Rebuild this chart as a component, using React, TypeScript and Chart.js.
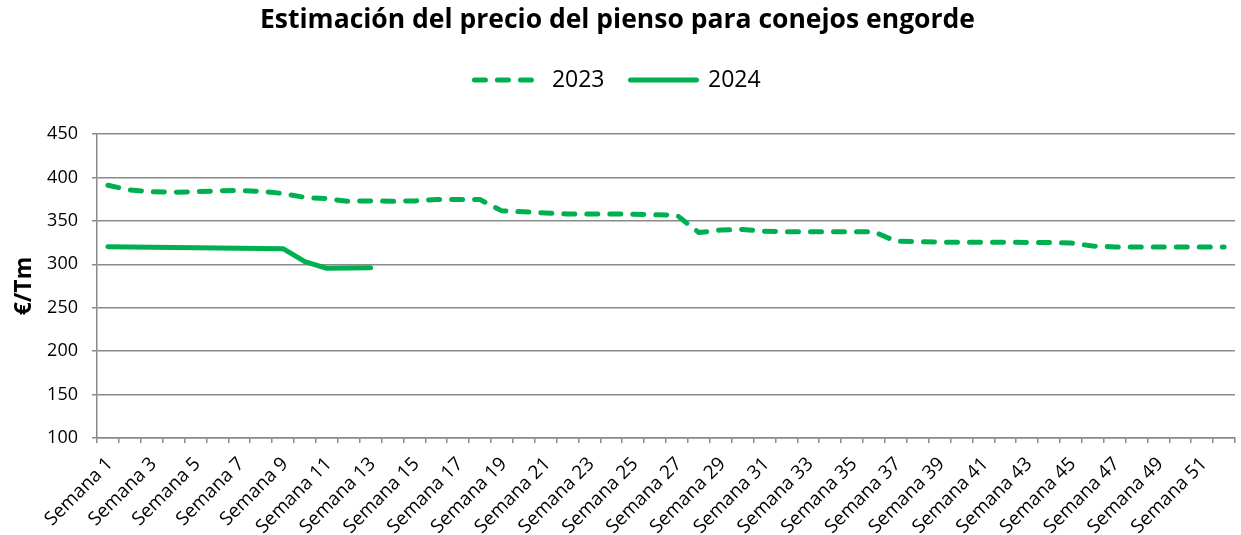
import React, { useEffect, useRef } from 'react';
import { Chart, registerables } from 'chart.js';

Chart.register(...registerables);

const weeks = [
  'Semana 1', 'Semana 2', 'Semana 3', 'Semana 4', 'Semana 5', 'Semana 6', 'Semana 7', 'Semana 8',
  'Semana 9', 'Semana 10', 'Semana 11', 'Semana 12', 'Semana 13', 'Semana 14', 'Semana 15', 'Semana 16',
  'Semana 17', 'Semana 18', 'Semana 19', 'Semana 20', 'Semana 21', 'Semana 22', 'Semana 23', 'Semana 24',
  'Semana 25', 'Semana 26', 'Semana 27', 'Semana 28', 'Semana 29', 'Semana 30', 'Semana 31', 'Semana 32',
  'Semana 33', 'Semana 34', 'Semana 35', 'Semana 36', 'Semana 37', 'Semana 38', 'Semana 39', 'Semana 40',
  'Semana 41', 'Semana 42', 'Semana 43', 'Semana 44', 'Semana 45', 'Semana 46', 'Semana 47', 'Semana 48',
  'Semana 49', 'Semana 50', 'Semana 51', 'Semana 52',
];

const values2023 = [
  391, 385.5, 383.5, 383, 383.5, 384.5, 385, 384, 381.5, 377, 375.5, 372.5, 373,
  372.5, 373, 374.5, 374.5, 374.5, 361.5, 360.5, 359, 358, 358, 358, 357.5, 357,
  356.5, 336.5, 339.5, 340, 338, 337.5, 337.5, 337.5, 337.5, 337.5, 326.5, 326, 325.5,
  325.5, 325.5, 325.5, 325, 325, 324.5, 321, 320, 320, 320, 320, 320, 320,
];

const values2024 = [
  320.3, 320, 319.7, 319.4, 319.1, 318.8, 318.5, 318.2, 318, 303, 295.3, 295.7, 296,
];

const seriesLabels = ['2023', '2024'];
const yTicks = { min: 100, max: 450, step: 50 };

const GREEN = '#00B050';
const GRID = '#8a8a8a';
const FONT = '"Open Sans", Lato, sans-serif';

export default function App() {
  const ref = useRef<HTMLCanvasElement>(null);

  useEffect(() => {
    if (!ref.current) return;
    const chart = new Chart(ref.current, {
      type: 'line',
      data: {
        labels: weeks,
        datasets: [
          {
            label: seriesLabels[0],
            data: values2023,
            borderColor: GREEN,
            backgroundColor: GREEN,
            borderWidth: 5,
            borderDash: [11, 12],
            borderCapStyle: 'round',
            borderJoinStyle: 'round',
            pointRadius: 0,
            tension: 0,
            fill: false,
          },
          {
            label: seriesLabels[1],
            data: values2024,
            borderColor: GREEN,
            backgroundColor: GREEN,
            borderWidth: 5,
            borderCapStyle: 'round',
            borderJoinStyle: 'round',
            pointRadius: 0,
            tension: 0,
            fill: false,
          },
        ],
      },
      options: {
        animation: false,
        responsive: false,
        devicePixelRatio: 1,
        events: [],
        layout: { padding: { top: 0, right: 6, bottom: 0, left: 0 } },
        plugins: {
          tooltip: { enabled: false },
          title: {
            display: true,
            text: 'Estimación del precio del pienso para conejos engorde',
            color: '#000',
            font: { family: FONT, size: 26.5, weight: 'bold', lineHeight: 1.2 },
            padding: { top: 5, bottom: 17.7 },
          },
          subtitle: {
            display: true,
            text: ' ',
            weight: 500,
            font: { family: FONT, size: 10, lineHeight: 1.2 },
            padding: { top: 0, bottom: 20.5 },
          },
          legend: {
            display: true,
            position: 'top',
            labels: {
              usePointStyle: true,
              pointStyleWidth: 66,
              color: '#000',
              font: { family: FONT, size: 23 },
              padding: 14,
              generateLabels: (c: any) =>
                c.data.datasets.map((ds: any, i: number) => ({
                  text: i === 0 ? ds.label + '  ' : ds.label,
                  fillStyle: GREEN,
                  strokeStyle: GREEN,
                  lineWidth: 5,
                  lineDash: ds.borderDash || [],
                  lineCap: 'round',
                  pointStyle: 'line',
                  fontColor: '#000',
                  hidden: false,
                  datasetIndex: i,
                })),
            },
          },
        },
        scales: {
          x: {
            type: 'category',
            offset: true,
            grid: {
              offset: true,
              drawOnChartArea: false,
              drawTicks: true,
              tickLength: 5,
              color: GRID,
              lineWidth: 1.5,
            },
            border: { color: GRID, width: 1.5 },
            ticks: {
              autoSkip: false,
              maxRotation: 45,
              minRotation: 45,
              padding: 10,
              labelOffset: 2,
              color: '#000',
              font: { family: FONT, size: 19 },
              callback: (_v: any, i: number) => (i % 2 === 0 ? weeks[i] : ''),
            },
            afterFit: (s: any) => {
              s.height = 97;
              s.paddingLeft = 0;
              s.paddingRight = 0;
            },
          },
          y: {
            min: yTicks.min,
            max: yTicks.max,
            ticks: {
              stepSize: yTicks.step,
              padding: 14,
              color: '#000',
              font: { family: FONT, size: 18 },
            },
            grid: { color: GRID, lineWidth: 1.5, tickLength: 5, drawTicks: true },
            border: { color: GRID, width: 1.5 },
            title: {
              display: true,
              text: '€/Tm',
              color: '#000',
              font: { family: FONT, size: 23, weight: 'bold', lineHeight: 1.2 },
              padding: { top: 11, bottom: 0 },
            },
            afterFit: (s: any) => {
              s.width = 97;
            },
          },
        },
      },
    } as any);
    return () => chart.destroy();
  }, []);

  return (
    <div style={{ position: 'absolute', left: 0, top: 0, width: 1241, height: 535 }}>
      <canvas ref={ref} width={1241} height={535} style={{ width: 1241, height: 535 }} />
    </div>
  );
}
